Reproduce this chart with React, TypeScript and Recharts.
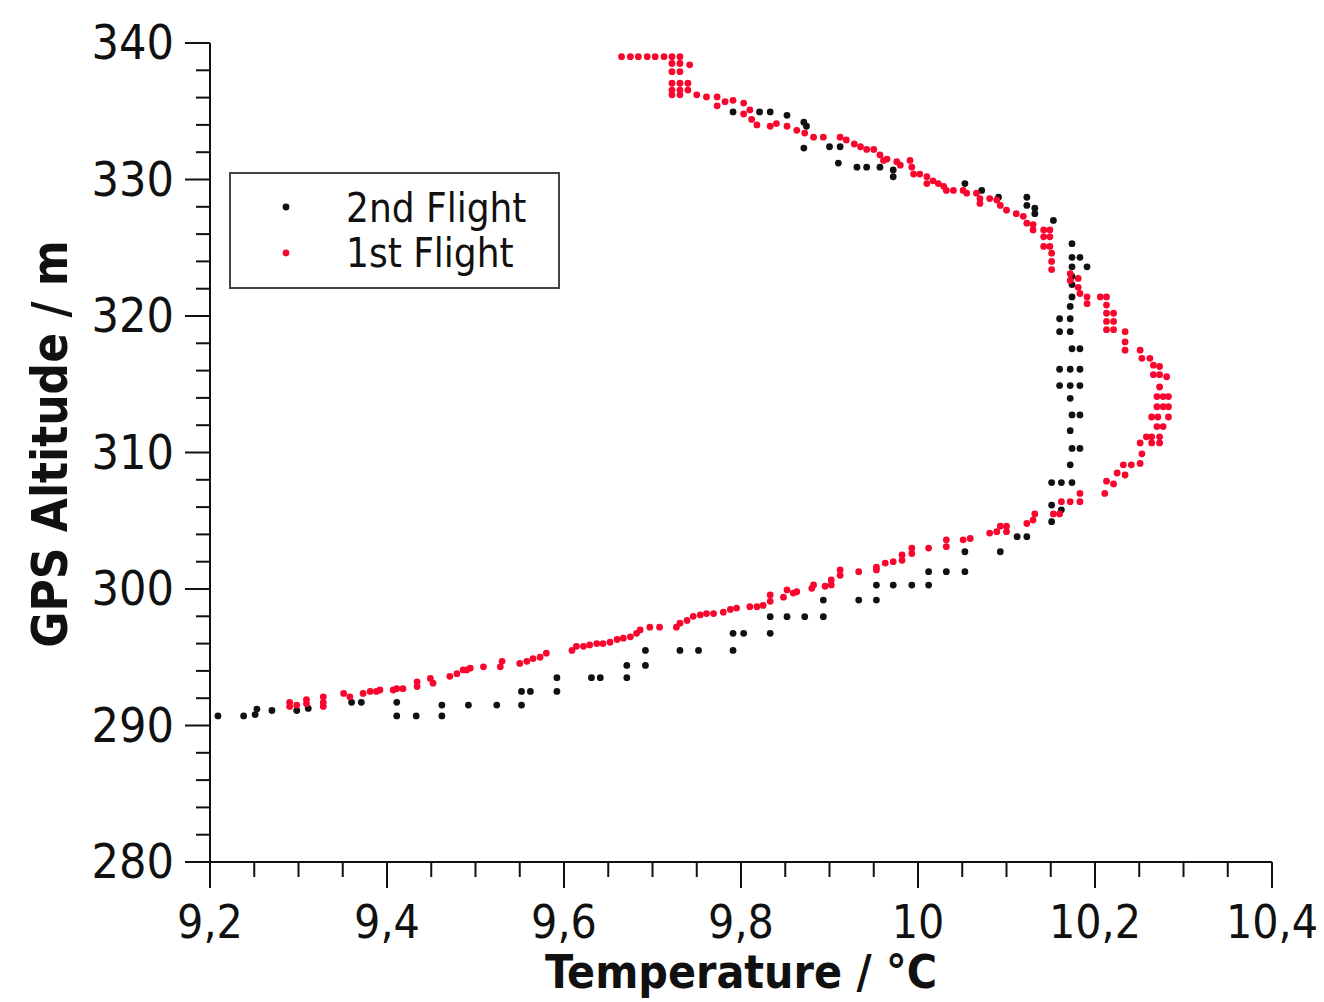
import React from 'react';
import { ScatterChart, Scatter, XAxis, YAxis } from 'recharts';

// 2nd flight: [temperature °C, GPS altitude m]
const secondFlightTemp = [
  9.209, 9.238, 9.251, 9.253, 9.270, 9.298, 9.311, 9.360, 9.371, 9.411, 9.411, 9.433, 9.462, 9.462, 9.492,
  9.524, 9.552, 9.552, 9.562, 9.592, 9.592, 9.631, 9.641, 9.671, 9.671, 9.692, 9.692, 9.731, 9.752, 9.791,
  9.791, 9.803, 9.833, 9.833, 9.852,
  9.872, 9.893, 9.893, 9.933, 9.953, 9.953, 9.972, 9.993, 10.012, 10.012, 10.032, 10.053, 10.053, 10.093,
  10.112, 10.123, 10.151, 10.151,
  10.162, 10.151, 10.162, 10.174, 10.172, 10.174, 10.183, 10.172, 10.174, 10.183, 10.172, 10.160, 10.172,
  10.183, 10.160, 10.172, 10.183, 10.174, 10.183, 10.160, 10.172, 10.160, 10.172, 10.172,
  10.174, 10.174, 10.174, 10.174, 10.191, 10.174, 10.183, 10.174, 10.153, 10.132, 10.132, 10.123, 10.123,
  10.091, 10.072, 10.053, 9.972, 9.972, 9.957,
  9.942, 9.931, 9.910, 9.912, 9.900, 9.871, 9.874, 9.871, 9.852, 9.833, 9.821, 9.791,
];
const secondFlightAlt = [
  290.7, 290.7, 290.8, 291.2, 291.1, 291.1, 291.25, 291.7, 291.7, 291.7, 290.7, 290.7, 291.5, 290.7, 291.5,
  291.5, 291.5, 292.5, 292.5, 292.5, 293.5, 293.5, 293.5, 293.5, 294.4, 294.4, 295.5, 295.5, 295.5, 295.5,
  296.75, 296.75, 296.75, 297.97, 297.97,
  297.97, 297.97, 299.19, 299.19, 299.19, 300.29, 300.29, 300.29, 300.29, 301.27, 301.27, 301.27, 302.73, 302.73,
  303.83, 303.83, 304.93, 306.15,
  305.8, 307.8, 307.8, 307.8, 309.1, 310.3, 310.3, 311.6, 312.75, 312.75, 313.97, 314.9, 314.9,
  314.9, 316.1, 316.1, 316.1, 317.6, 317.6, 318.85, 318.85, 319.8, 319.8, 320.7,
  321.4, 322.3, 322.9, 323.6, 323.6, 324.3, 324.3, 325.3, 327.0, 327.5, 327.9, 328.1, 328.7,
  328.7, 329.2, 329.7, 330.2, 330.7, 330.9,
  330.9, 330.9, 331.2, 332.4, 332.4, 332.3, 333.9, 334.2, 334.7, 334.95, 334.95, 334.95,
];

// 1st flight: [temperature °C, GPS altitude m]
const firstFlightTemp = [
  9.290, 9.290, 9.298, 9.309, 9.309, 9.328, 9.328, 9.328, 9.351, 9.358, 9.373, 9.381, 9.388, 9.392, 9.407,
  9.411, 9.418, 9.434, 9.434, 9.449, 9.452, 9.471, 9.479, 9.490, 9.494, 9.509, 9.486,
  9.528, 9.530, 9.550, 9.558, 9.565, 9.573, 9.580, 9.609, 9.614, 9.622, 9.629, 9.637, 9.644, 9.652, 9.660,
  9.667, 9.675, 9.682, 9.686, 9.697, 9.708, 9.727, 9.731, 9.739, 9.746, 9.754, 9.761, 9.769, 9.780, 9.788,
  9.795, 9.810, 9.818, 9.825, 9.833, 9.833, 9.848, 9.859,
  9.852, 9.863, 9.880, 9.882, 9.895, 9.902, 9.902, 9.912, 9.912, 9.933, 9.953, 9.953, 9.963, 9.972, 9.982,
  9.982, 9.993, 9.993, 10.012, 10.032, 10.032, 10.051, 10.059, 10.081, 10.089, 10.093, 10.100, 10.100,
  10.123, 10.130, 10.132, 10.153, 10.160, 10.162, 10.172, 10.183,
  10.183, 10.211, 10.221, 10.213, 10.234, 10.225, 10.232, 10.241, 10.251, 10.253, 10.251, 10.264, 10.273,
  10.258, 10.264, 10.273, 10.270, 10.277, 10.264, 10.271, 10.283, 10.270, 10.277, 10.283, 10.270, 10.277,
  10.283, 10.273, 10.266, 10.273, 10.281, 10.266, 10.273, 10.253, 10.262, 10.234, 10.251, 10.234, 10.234,
  10.213, 10.221, 10.213, 10.221, 10.213, 10.221, 10.213, 10.191, 10.191, 10.206, 10.213, 10.183, 10.181,
  10.181, 10.172, 10.172, 10.151, 10.151, 10.151, 10.142, 10.149, 10.142, 10.149, 10.130, 10.142, 10.149,
  10.130, 10.123, 10.119, 10.111, 10.100, 10.093, 10.089, 10.081, 10.070, 10.070, 10.066, 10.055, 10.051,
  10.040, 10.032, 10.029, 10.023, 10.017, 10.010, 10.010, 10.002, 9.995, 9.993, 9.991, 9.980, 9.961,
  9.976, 9.965, 9.957, 9.950, 9.942, 9.935, 9.928, 9.919, 9.912, 9.893, 9.882, 9.872, 9.863, 9.852, 9.840,
  9.833, 9.818, 9.812, 9.810, 9.803, 9.803, 9.791, 9.782, 9.773, 9.773, 9.761, 9.750, 9.740, 9.740, 9.722,
  9.731, 9.722, 9.731, 9.722, 9.731, 9.722, 9.731, 9.742, 9.722, 9.731, 9.665, 9.675, 9.684, 9.694, 9.703,
  9.713, 9.722, 9.731,
];
const firstFlightAlt = [
  291.7, 291.4, 291.5, 291.6, 291.9, 292.1, 291.7, 291.4, 292.35, 292.1, 292.35, 292.5, 292.5, 292.6, 292.6,
  292.7, 292.7, 292.85, 293.2, 293.45, 293.1, 293.6, 293.8, 294.07, 294.2, 294.3, 294.07,
  294.3, 294.7, 294.55, 294.7, 294.9, 295.0, 295.3, 295.5, 295.8, 295.8, 295.9, 296.0, 296.0, 296.1, 296.3,
  296.4, 296.5, 296.75, 297.0, 297.2, 297.2, 297.2, 297.5, 297.7, 298.0, 298.1, 298.2, 298.2, 298.3, 298.5,
  298.6, 298.7, 298.7, 298.8, 299.1, 299.56, 299.4, 299.7,
  299.93, 299.8, 300.05, 300.3, 300.2, 300.3, 300.66, 301.0, 301.4, 301.27, 301.4, 301.6, 301.9, 302.0, 302.1,
  302.5, 302.6, 303.0, 303.0, 303.1, 303.6, 303.6, 303.7, 304.1, 304.2, 304.6, 304.6, 304.2,
  304.8, 305.05, 305.5, 305.5, 305.5, 306.4, 306.4, 306.4,
  307.0, 307.0, 307.7, 307.9, 308.35, 308.5, 309.1, 309.1, 309.2, 309.9, 310.7, 310.7, 310.7,
  311.15, 311.15, 311.15, 311.9, 311.9, 312.6, 312.6, 312.6, 313.35, 313.35, 313.35, 314.1, 314.1,
  314.1, 314.8, 315.7, 315.7, 315.55, 316.4, 316.3, 316.9, 316.9, 317.5, 317.5, 318.1, 318.85,
  319.0, 319.0, 319.6, 319.6, 320.2, 320.2, 320.8, 320.9, 321.4, 321.4, 321.4, 321.65, 322.1,
  322.75, 322.6, 323.1, 323.4, 324.0, 324.6, 325.1, 325.1, 325.8, 325.8, 326.3, 326.3, 326.3,
  326.7, 326.8, 327.3, 327.5, 327.75, 328.1, 328.5, 328.6, 328.6, 328.25, 329.0, 329.0, 329.2,
  329.2, 329.2, 329.5, 329.7, 329.9, 329.7, 330.2, 330.4, 330.4, 330.9, 331.4, 331.05, 331.4,
  331.3, 331.5, 331.8, 332.2, 332.2, 332.4, 332.6, 332.9, 333.1, 333.1, 333.1, 333.4, 333.6, 333.9, 334.1,
  333.9, 334.0, 334.4, 335.1, 334.8, 335.6, 335.8, 335.7, 335.4, 336.05, 336.05, 336.2, 336.55, 337.05, 336.2,
  336.2, 336.55, 336.55, 337.05, 337.05, 337.9, 337.9, 338.4, 338.5, 338.5, 339.0, 339.0, 339.0, 339.0, 339.0,
  339.0, 339.0, 339.0,
];

const xTicks = [
  9.2, 9.25, 9.3, 9.35, 9.4, 9.45, 9.5, 9.55, 9.6, 9.65, 9.7, 9.75, 9.8, 9.85, 9.9, 9.95,
  10.0, 10.05, 10.1, 10.15, 10.2, 10.25, 10.3, 10.35, 10.4,
];
const xMajorTicks = [9.2, 9.4, 9.6, 9.8, 10.0, 10.2, 10.4];
const yTicks = [
  280, 282, 284, 286, 288, 290, 292, 294, 296, 298, 300, 302, 304, 306, 308, 310, 312, 314, 316, 318,
  320, 322, 324, 326, 328, 330, 332, 334, 336, 338, 340,
];
const yMajorTicks = [280, 290, 300, 310, 320, 330, 340];

const seriesNames = ['2nd Flight', '1st Flight'];
const xTitle = 'Temperature  / °C';
const yTitle = 'GPS Altitude  / m';

const secondFlight = secondFlightTemp.map((t, i) => ({ t, a: secondFlightAlt[i] }));
const firstFlight = firstFlightTemp.map((t, i) => ({ t, a: firstFlightAlt[i] }));

const BLACK = '#111111';
const RED = '#f8062e';
const TICK_FONT = "'DejaVu Sans Condensed', 'DejaVu Sans', sans-serif";
const DOT_R = 3.4;

const isMajor = (v: number, majors: number[]) => majors.some((m) => Math.abs(m - v) < 1e-6);
const fmtX = (v: number) => {
  const r = Math.round(v * 10) / 10;
  return Number.isInteger(r) ? String(r) : String(r).replace('.', ',');
};

const XTick = (props: any) => {
  const { x, y, payload } = props;
  const major = isMajor(payload.value, xMajorTicks);
  return (
    <g>
      <line x1={x} x2={x} y1={y} y2={y + (major ? 26 : 15)} stroke="#111" strokeWidth={2} />
      {major && (
        <text x={x} y={y + 76} textAnchor="middle" fontFamily={TICK_FONT} fontSize={46} fill="#111">
          {fmtX(payload.value)}
        </text>
      )}
    </g>
  );
};

const YTick = (props: any) => {
  const { x, y, payload } = props;
  const major = isMajor(payload.value, yMajorTicks);
  return (
    <g>
      <line x1={x - (major ? 25 : 14)} x2={x} y1={y} y2={y} stroke="#111" strokeWidth={2} />
      {major && (
        <text x={x - 36} y={y + 16} textAnchor="end" fontFamily={TICK_FONT} fontSize={48} fill="#111">
          {payload.value}
        </text>
      )}
    </g>
  );
};

const Dot = (color: string) => (props: any) => {
  const { cx, cy } = props;
  if (cx == null || cy == null) return <g />;
  return <circle cx={cx} cy={cy} r={DOT_R} fill={color} />;
};

const LegendBox = () => (
  <svg width={332} height={118} style={{ display: 'block' }}>
    <rect x={1} y={1} width={329} height={115} fill="#ffffff" stroke="#444" strokeWidth={2} />
    <circle cx={57} cy={35} r={DOT_R} fill={BLACK} />
    <text x={117} y={50} fontFamily={TICK_FONT} fontSize={40} fill="#111">
      {seriesNames[0]}
    </text>
    <circle cx={57} cy={81} r={DOT_R} fill={RED} />
    <text x={117} y={95} fontFamily={TICK_FONT} fontSize={40} fill="#111">
      {seriesNames[1]}
    </text>
  </svg>
);

export default function App() {
  return (
    <div style={{ position: 'relative', width: 1316, height: 992, background: '#fff' }}>
      <ScatterChart width={1316} height={992} margin={{ top: 35, right: 52, left: 0, bottom: 0 }}>
        <XAxis
          type="number"
          dataKey="t"
          domain={[9.2, 10.4]}
          ticks={xTicks}
          interval={0}
          tick={<XTick />}
          tickLine={false}
          tickSize={0}
          tickMargin={0}
          height={138}
          allowDataOverflow
          axisLine={{ stroke: '#111', strokeWidth: 2 }}
          label={{
            content: (p: any) => {
              const vb = p.viewBox || {};
              return (
                <text
                  x={vb.x + vb.width / 2}
                  y={980}
                  textAnchor="middle"
                  fontFamily={TICK_FONT}
                  fontWeight="bold"
                  fontSize={46}
                  fill="#111"
                >
                  {xTitle}
                </text>
              );
            },
          }}
        />
        <YAxis
          type="number"
          dataKey="a"
          domain={[280, 340]}
          ticks={yTicks}
          interval={0}
          tick={<YTick />}
          tickLine={false}
          tickSize={0}
          tickMargin={0}
          width={202}
          allowDataOverflow
          axisLine={{ stroke: '#111', strokeWidth: 2 }}
          label={{
            content: () => (
              <text
                x={0}
                y={0}
                transform="translate(59 436) rotate(-90)"
                textAnchor="middle"
                fontFamily={TICK_FONT}
                fontWeight="bold"
                fontSize={49}
                fill="#111"
              >
                {yTitle}
              </text>
            ),
          }}
        />
        <Scatter
          name={seriesNames[0]}
          data={secondFlight}
          fill={BLACK}
          shape={Dot(BLACK)}
          isAnimationActive={false}
        />
        <Scatter
          name={seriesNames[1]}
          data={firstFlight}
          fill={RED}
          shape={Dot(RED)}
          isAnimationActive={false}
        />
      </ScatterChart>
      <div style={{ position: 'absolute', left: 221, top: 164 }}>
        <LegendBox />
      </div>
    </div>
  );
}
